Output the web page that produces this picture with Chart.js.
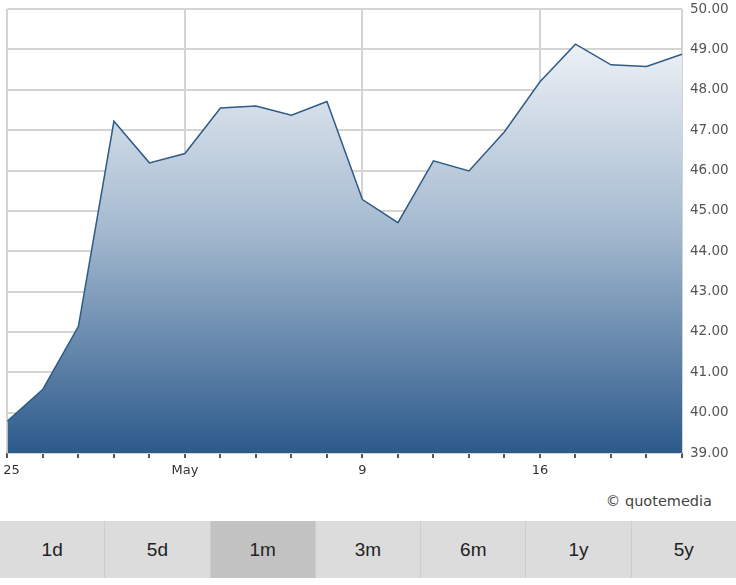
<!DOCTYPE html>
<html>
<head>
<meta charset="utf-8">
<script src="https://cdn.jsdelivr.net/npm/chart.js@4/dist/chart.umd.min.js"></script>
<style>
  body { margin: 0; background: #fff; width: 736px; height: 585px; overflow: hidden; position: relative; }
  #wrap { position: absolute; left: -10px; top: -7px; width: 746px; height: 497px; }
  #credit { position: absolute; right: 24px; top: 493px; font: 14.5px "DejaVu Sans", sans-serif; color: #444; }
  #bar { position: absolute; left: 0; top: 521px; width: 736px; height: 57px; display: flex; background: #dcdcdc; }
  #bar div { flex: 1; text-align: center; font: 19px "Liberation Sans", Arial, sans-serif; line-height: 57px; color: #222; border-left: 1px solid #cdcdcd; }
  #bar div:first-child { border-left: none; }
  #bar div.on { background: #c2c2c2; }
</style>
</head>
<body>
<div id="wrap"><canvas id="price-chart"></canvas></div>
<div id="credit">© quotemedia</div>
<div id="bar">
  <div>1d</div><div>5d</div><div class="on">1m</div><div>3m</div><div>6m</div><div>1y</div><div>5y</div>
</div>
<script>
// Apr 25 .. May 20, one point per trading day
var days = ["25", "", "", "", "", "May", "", "", "", "", "9", "", "", "", "", "16", "", "", "", ""];
var closes = [39.79, 40.58, 42.14, 47.22, 46.19, 46.42, 47.55, 47.60, 47.37, 47.71,
              45.28, 44.71, 46.24, 45.99, 46.96, 48.20, 49.13, 48.62, 48.58, 48.88];
var yMin = 39, yMax = 50;

function areaFill(context) {
  var area = context.chart.chartArea;
  if (!area) return "#8fa8c4";
  var g = context.chart.ctx.createLinearGradient(0, area.top, 0, area.bottom);
  g.addColorStop(0, "#fafbfd");
  g.addColorStop(0.5, "#a4b9cf");
  g.addColorStop(1, "#2c5a8b");
  return g;
}

var ctx = document.getElementById("price-chart");
window.myChart = new Chart(ctx, {
  type: "line",
  data: {
    labels: days,
    datasets: [
      {
        data: closes,
        borderColor: "#2f5b87",
        borderWidth: 1.5,
        backgroundColor: areaFill,
        fill: "start",
        tension: 0,
        pointRadius: 0,
      },
    ],
  },
  options: {
    responsive: true,
    maintainAspectRatio: false,
    animation: false,
    layout: { padding: 0 },
    plugins: { legend: { display: false }, tooltip: { enabled: false } },
    scales: {
      x: {
        offset: false,
        border: { display: false },
        grid: {
          color: function (c) {
            var i = c.index;
            return (days[i] !== "" || i === days.length - 1) ? "#d4d4d4" : "rgba(0,0,0,0)";
          },
          lineWidth: 2,
          tickColor: "#555",
          tickLength: 5,
          drawTicks: true,
        },
        ticks: {
          autoSkip: false,
          maxRotation: 0,
          padding: 5,
          color: "#333",
          font: { family: "DejaVu Sans", size: 13 },
          // first label nudged right so it is not cut at the edge
          callback: function (v, i) { return i === 0 ? "  " + days[i] : days[i]; },
        },
        afterFit: function (s) { s.height = 37; },
      },
      y: {
        position: "right",
        min: yMin,
        max: yMax,
        border: { display: false },
        grid: { color: "#d4d4d4", lineWidth: 2, drawTicks: false },
        ticks: {
          stepSize: 1,
          padding: 8,
          color: "#555",
          font: { family: "DejaVu Sans", size: 13.5 },
          callback: function (v) { return v.toFixed(2); },
        },
        afterFit: function (s) { s.width = 54; },
      },
    },
  },
});
</script>
</body>
</html>
